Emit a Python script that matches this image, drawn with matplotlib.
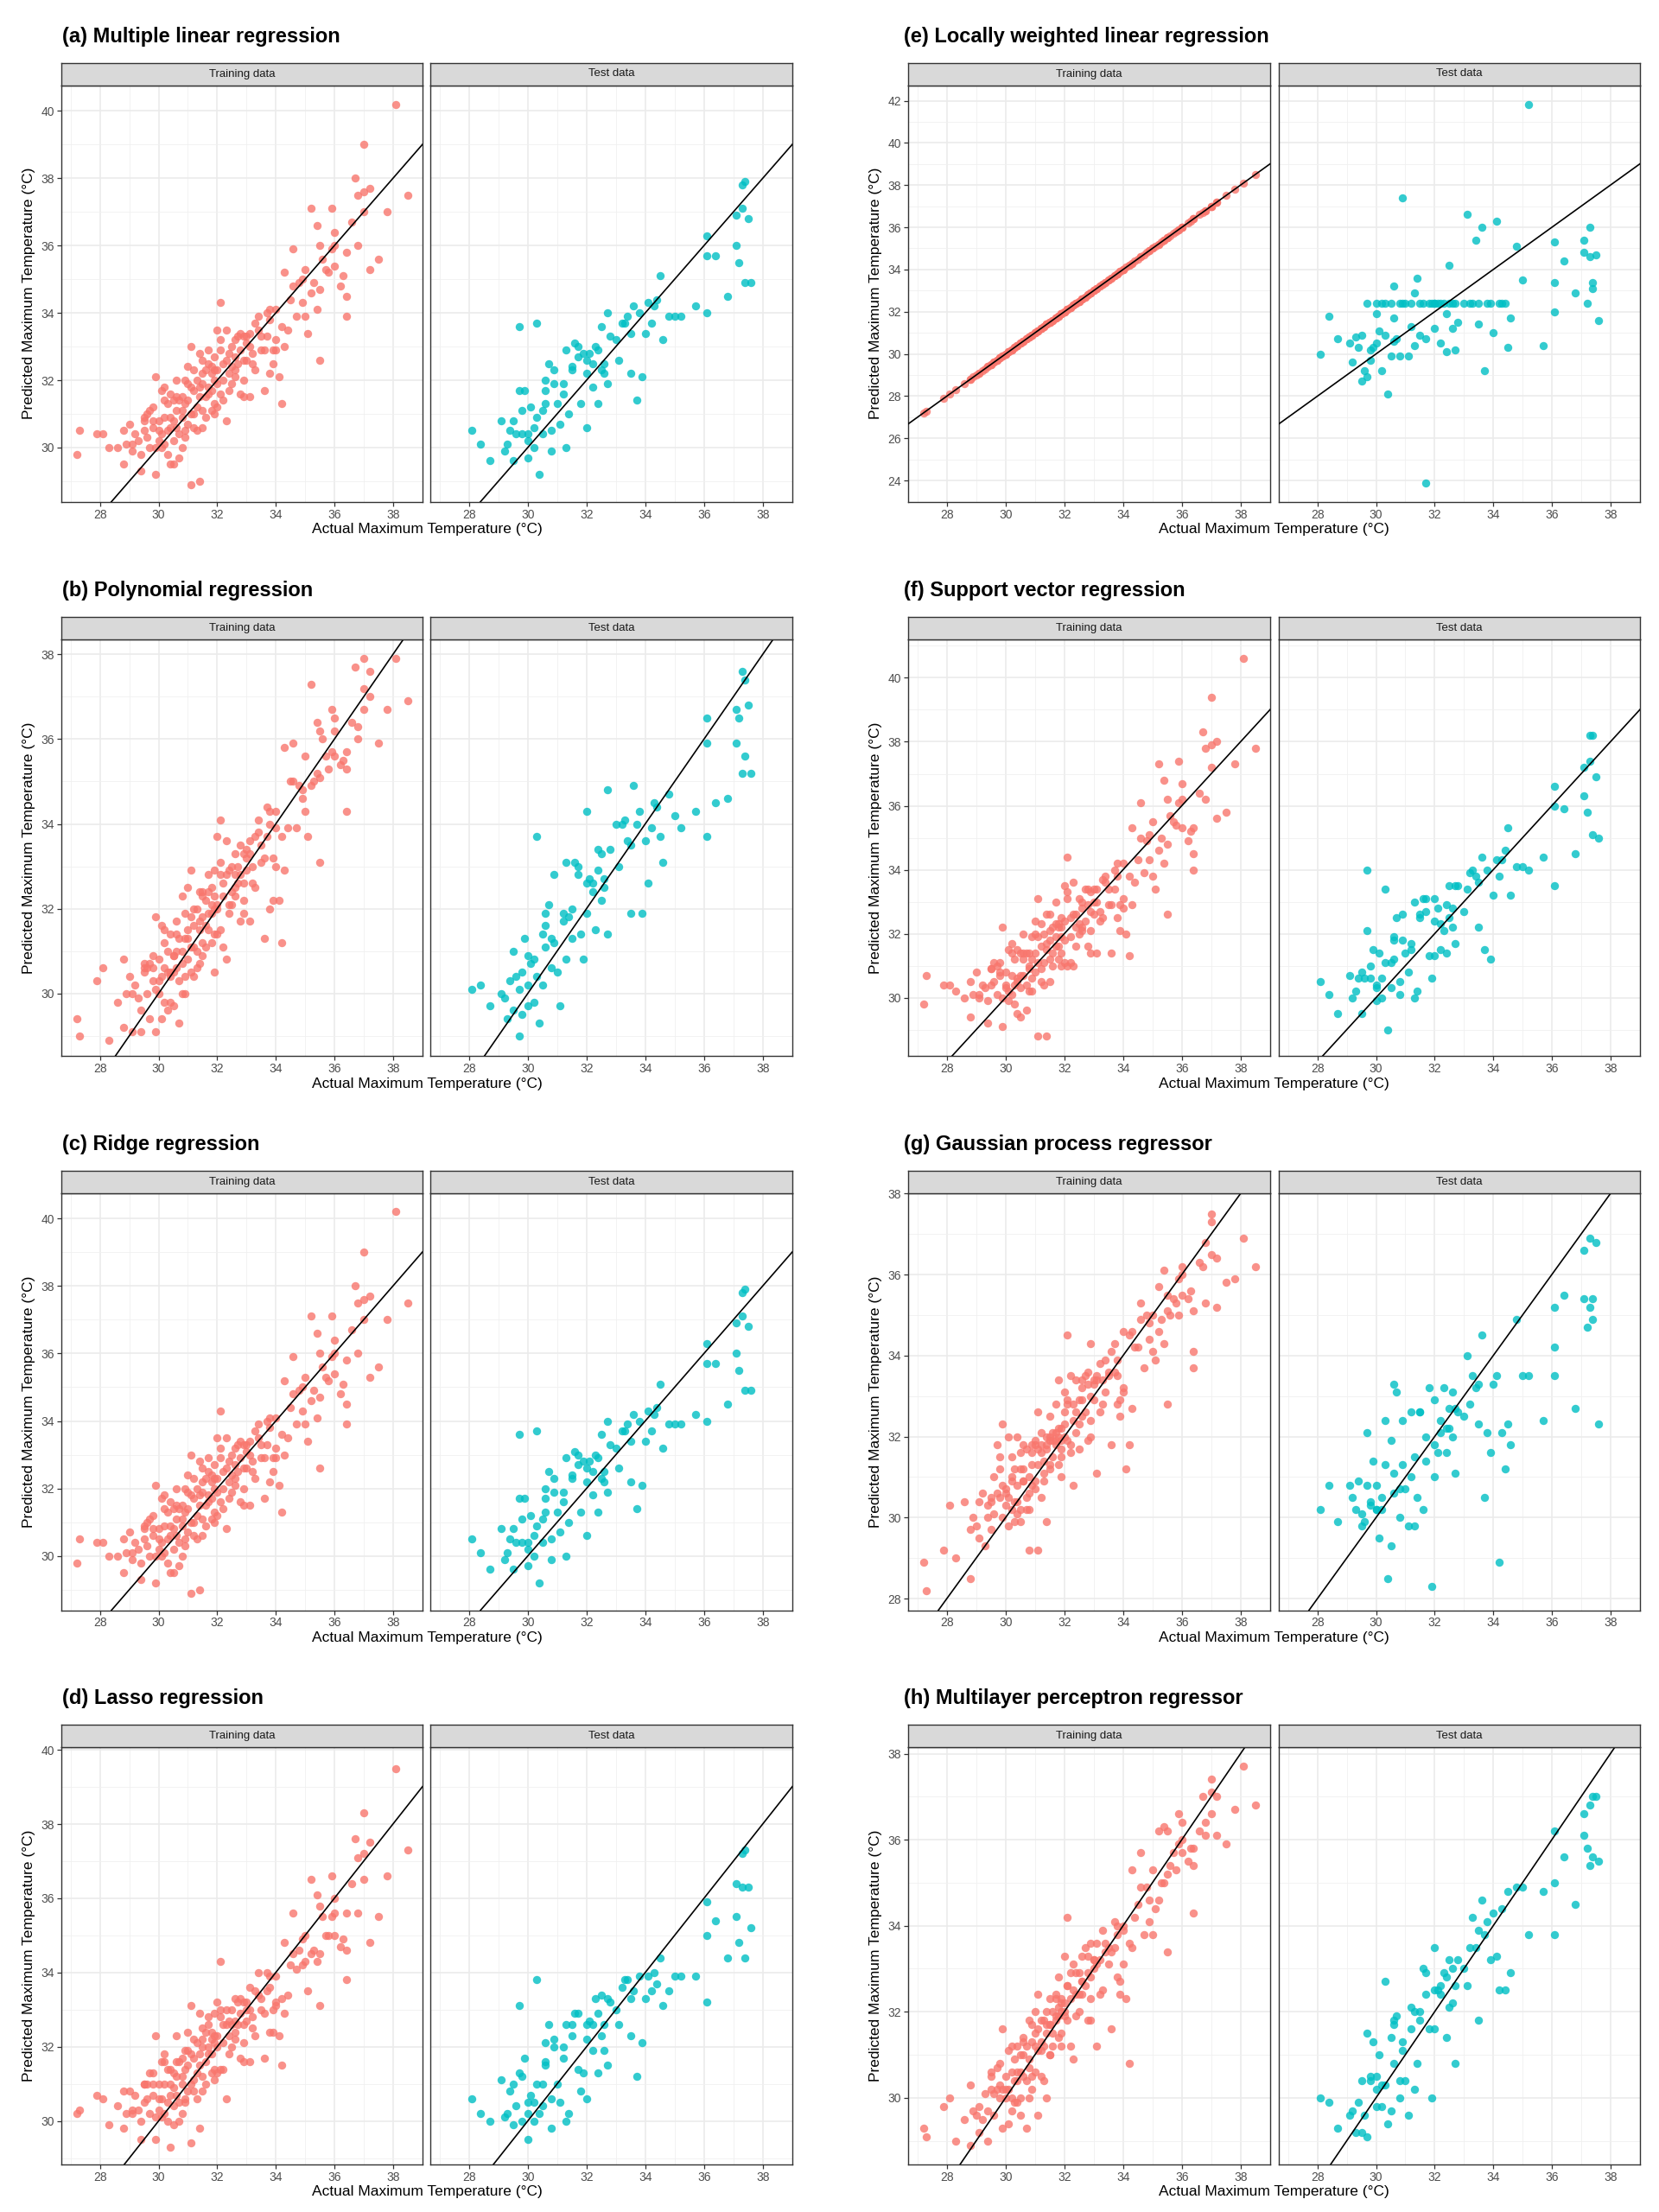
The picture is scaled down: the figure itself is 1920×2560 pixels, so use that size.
import matplotlib
matplotlib.use("Agg")
import matplotlib.pyplot as plt
from matplotlib.ticker import MultipleLocator

plt.rcParams["font.family"] = ["Liberation Sans", "DejaVu Sans"]

W, H = 1920, 2560

# actual maximum temperature of the training days (shared by all models)
TRAIN_ACTUAL = [
    27.2, 27.3, 27.9, 28.1, 28.3, 28.6, 28.8, 28.8, 28.9,
    29.0, 29.1, 29.1, 29.2, 29.3, 29.4, 29.4, 29.5, 29.5,
    29.6, 29.6, 29.7, 29.7, 29.8, 29.8, 29.9, 29.9, 29.9,
    30.0, 30.0, 30.1, 30.1, 30.1, 30.2, 30.2, 30.2, 30.3, 30.3, 30.4, 30.4, 30.4, 30.5,
    30.5, 30.5, 30.6, 30.6, 30.6, 30.7, 30.7, 30.7, 30.8, 30.8, 30.8, 30.9, 30.9, 30.9,
    31.0, 31.0, 31.1, 31.1, 31.1, 31.2, 31.2, 31.2, 31.3, 31.3, 31.4, 31.4, 31.4, 31.5,
    31.5, 31.5, 31.6, 31.6, 31.7, 31.7, 31.7, 31.8, 31.8, 31.8, 31.9, 31.9, 31.9, 31.9,
    32.0, 32.0, 32.1, 32.1, 32.1, 32.2, 32.2, 32.3, 32.3, 32.4, 32.4,
    32.5, 32.5, 32.6, 32.6, 32.7, 32.8, 32.8, 32.9, 32.9, 32.9, 32.9,
    33.0, 33.0, 33.1, 33.1, 33.2, 33.3, 33.3, 33.4, 33.5,
    33.5, 33.6, 33.7, 33.7, 33.8, 33.8, 33.9, 33.9, 34.0,
    34.0, 34.1, 34.2, 34.2, 34.3, 34.3, 34.5, 34.6, 34.7, 34.8, 34.9, 34.9,
    35.0, 35.1, 35.2, 35.2, 35.4, 35.4, 35.5, 35.5, 35.6, 35.8, 35.9, 35.9,
    36.0, 36.0, 36.2, 36.4, 36.4, 36.4, 36.6, 36.7, 36.8, 36.8,
    37.0, 37.0, 37.0, 37.2, 37.2, 37.5, 37.8, 38.1, 38.5,
    29.5, 29.8, 30.0, 30.2, 30.3, 30.5, 30.6, 30.8, 30.9, 31.0, 31.1, 31.2,
    31.3, 31.4, 31.5, 31.6, 31.7, 31.8, 31.9, 32.0, 32.1, 32.2, 32.3, 32.4,
    32.5, 32.6, 32.7, 32.8, 33.0, 33.2, 33.4, 33.6, 33.8, 34.0, 34.4, 34.6,
    35.0, 35.3, 35.5, 35.7, 36.0, 36.3, 30.4, 31.0, 31.5, 32.0, 32.6, 33.1,
]

# actual maximum temperature of the test days
TEST_ACTUAL = [
    28.1, 28.4, 28.7, 29.1, 29.2, 29.3, 29.5, 29.5, 29.6, 29.7,
    29.7, 29.8, 29.9, 30.0, 30.0, 30.1, 30.2, 30.2, 30.3, 30.4,
    30.5, 30.5, 30.6, 30.6, 30.7, 30.8, 30.8, 30.9, 31.0, 31.1,
    31.2, 31.3, 31.3, 31.4, 31.5, 31.6, 31.7, 31.8, 31.9, 32.0,
    32.0, 32.1, 32.2, 32.3, 32.4, 32.5, 32.5, 32.6, 32.7, 32.7,
    33.0, 33.1, 33.3, 33.4, 33.5, 33.6, 33.7, 33.9, 34.1, 34.2,
    34.4, 34.5, 34.6, 34.8, 35.2, 35.7, 36.1, 36.1, 36.4, 36.8,
    37.1, 37.1, 37.2, 37.3, 37.3, 37.4, 37.4, 37.5, 37.6, 36.1,
    29.4, 29.8, 30.0, 30.3, 30.6, 30.9, 31.2, 31.5, 31.7, 32.0,
    32.2, 32.4, 32.6, 32.8, 33.2, 33.5, 33.8, 34.0, 34.3, 35.0,
]

MLR_TRAIN = [
    29.8, 30.5, 30.4, 30.4, 30.0, 30.0, 30.5, 29.5, 30.1,
    30.7, 29.9, 30.1, 30.4, 30.2, 29.3, 29.8, 30.5, 30.8,
    31.0, 30.3, 31.1, 30.0, 30.8, 30.6, 29.2, 32.1, 30.0,
    30.2, 30.8, 31.7, 30.4, 30.0, 31.4, 30.9, 30.1, 31.3, 30.5, 31.6, 29.5, 30.9, 31.4,
    30.2, 29.5, 31.1, 30.6, 32.0, 31.4, 30.4, 29.7, 31.5, 30.9, 30.0, 31.3, 30.5, 32.0,
    31.9, 30.7, 28.9, 31.0, 33.0, 30.6, 32.3, 31.7, 31.2, 30.5, 31.5, 29.0, 32.8, 31.1,
    31.9, 32.6, 30.9, 32.3, 31.6, 32.5, 31.8, 32.2, 31.1, 32.4, 32.0, 31.3, 32.7, 31.0,
    33.5, 32.3, 34.3, 31.6, 32.9, 32.5, 31.4, 30.8, 33.5, 32.2, 32.8,
    32.4, 31.9, 33.2, 32.7, 33.3, 31.6, 32.9, 33.3, 32.0, 32.6, 31.5,
    33.1, 32.6, 31.5, 33.4, 32.5, 33.7, 32.3, 33.9, 32.9,
    33.3, 31.7, 34.0, 33.3, 32.2, 33.8, 32.9, 32.5, 32.9,
    33.2, 32.1, 31.3, 33.6, 33.0, 35.2, 34.4, 35.9, 33.9, 34.9, 34.3, 35.0,
    33.9, 33.4, 37.1, 34.6, 36.6, 34.1, 32.6, 36.0, 35.6, 35.2, 35.9, 37.1,
    35.4, 36.4, 34.8, 34.5, 35.8, 33.9, 36.7, 38.0, 36.0, 37.5,
    39.0, 37.0, 37.6, 37.7, 35.3, 35.6, 37.0, 40.2, 37.5,
    30.9, 31.2, 30.5, 31.8, 29.8, 30.8, 31.5, 31.1, 30.3, 31.4, 31.8, 31.0,
    32.0, 31.8, 30.6, 31.5, 32.9, 31.7, 32.3, 31.9, 33.2, 32.0, 32.6, 31.7,
    33.0, 32.3, 32.5, 33.4, 33.3, 32.8, 33.5, 32.9, 34.1, 34.1, 33.5, 34.8,
    35.3, 34.9, 34.7, 35.3, 36.0, 35.1, 30.6, 32.4, 32.2, 31.2, 32.1, 33.0,
]
MLR_TEST = [
    30.5, 30.1, 29.6, 30.8, 29.9, 30.1, 30.8, 29.6, 30.4, 33.6,
    31.7, 30.4, 31.7, 30.2, 29.7, 31.2, 30.6, 30.0, 33.7, 29.2,
    30.4, 31.1, 32.0, 31.7, 32.5, 30.5, 29.9, 32.3, 31.3, 30.7,
    31.9, 32.9, 30.0, 31.0, 32.4, 33.1, 32.7, 31.3, 32.8, 30.6,
    32.2, 32.8, 31.8, 33.0, 31.3, 33.6, 32.3, 32.2, 31.9, 34.0,
    33.2, 32.6, 33.7, 33.9, 32.2, 34.2, 31.4, 32.1, 34.3, 33.7,
    34.4, 35.1, 33.2, 33.9, 33.9, 34.2, 36.3, 34.0, 35.7, 34.5,
    36.0, 36.9, 35.5, 37.8, 37.1, 37.9, 34.9, 36.8, 34.9, 35.7,
    30.5, 31.1, 30.4, 30.9, 31.3, 31.9, 31.6, 32.3, 33.0, 32.6,
    32.5, 32.9, 32.5, 33.3, 33.7, 33.4, 34.0, 33.4, 34.2, 33.9,
]

POLY_TRAIN = [
    29.4, 29.0, 30.3, 30.6, 28.9, 29.8, 30.8, 29.2, 30.0,
    30.4, 29.1, 30.0, 30.2, 29.9, 29.1, 29.6, 30.5, 30.7,
    30.6, 30.0, 30.7, 29.4, 30.6, 30.3, 29.1, 31.8, 30.1,
    30.0, 30.8, 31.6, 30.4, 29.4, 31.2, 30.6, 29.8, 31.0, 30.5, 31.4, 29.8, 30.4, 30.9,
    30.5, 29.7, 31.0, 30.6, 31.7, 31.3, 30.3, 29.3, 32.3, 30.7, 30.0, 31.3, 30.4, 31.9,
    31.5, 30.8, 30.5, 31.1, 32.9, 30.4, 32.0, 31.6, 31.0, 30.6, 31.5, 30.7, 32.4, 31.2,
    31.8, 32.4, 31.1, 32.2, 31.5, 32.4, 31.9, 32.1, 31.2, 32.5, 32.0, 31.4, 32.9, 30.5,
    33.7, 32.0, 34.1, 31.5, 32.8, 32.6, 31.1, 30.8, 33.6, 32.1, 32.9,
    32.4, 32.1, 33.3, 32.8, 33.0, 31.7, 32.8, 33.3, 32.2, 32.6, 31.9,
    33.2, 32.9, 31.7, 33.6, 32.6, 33.7, 32.5, 34.1, 33.1,
    33.5, 31.3, 34.4, 33.7, 32.0, 34.0, 33.2, 32.2, 33.0,
    33.9, 32.2, 31.2, 33.7, 32.9, 35.8, 35.0, 35.9, 33.9, 34.9, 34.6, 34.8,
    34.3, 33.7, 37.3, 34.9, 36.4, 35.2, 33.1, 36.2, 36.0, 35.3, 35.7, 36.7,
    35.6, 36.5, 35.4, 34.3, 35.3, 35.7, 36.4, 37.7, 36.0, 36.3,
    37.9, 36.7, 37.2, 37.6, 37.0, 35.9, 36.7, 37.9, 36.9,
    30.6, 30.9, 30.3, 31.5, 29.6, 30.9, 31.4, 31.0, 30.0, 31.3, 31.8, 31.1,
    32.0, 31.7, 30.9, 31.6, 32.8, 31.9, 32.3, 32.1, 33.1, 32.3, 32.8, 31.9,
    33.0, 32.5, 32.6, 33.5, 33.4, 33.0, 33.8, 33.2, 34.3, 34.3, 33.9, 35.0,
    35.6, 35.0, 35.1, 35.6, 36.2, 35.5, 30.5, 32.5, 32.3, 31.4, 32.3, 33.3,
]
POLY_TEST = [
    30.1, 30.2, 29.7, 30.0, 29.9, 29.4, 31.0, 29.6, 30.4, 29.0,
    30.1, 29.5, 31.3, 30.2, 29.7, 30.7, 30.8, 29.8, 33.7, 29.3,
    31.4, 30.2, 31.9, 31.1, 32.1, 30.6, 31.3, 32.8, 30.5, 29.7,
    31.7, 33.1, 30.8, 31.8, 31.3, 33.1, 32.8, 31.4, 30.8, 34.3,
    31.9, 32.7, 32.4, 31.5, 33.4, 32.2, 33.3, 32.5, 34.8, 31.4,
    34.0, 33.0, 34.1, 33.6, 31.9, 34.9, 34.0, 31.9, 32.6, 33.9,
    34.4, 33.7, 33.1, 34.7, 33.9, 34.3, 36.5, 33.7, 34.5, 34.6,
    35.9, 36.7, 36.5, 37.6, 35.2, 37.4, 35.6, 36.8, 35.2, 35.9,
    30.3, 30.5, 30.9, 30.4, 31.6, 31.2, 31.9, 32.0, 33.0, 32.6,
    32.6, 32.9, 32.7, 33.4, 34.0, 33.5, 34.3, 33.6, 34.5, 34.2,
]

# ridge predictions are indistinguishable from the linear model in the figure
RIDGE_TRAIN = list(MLR_TRAIN)
RIDGE_TEST = list(MLR_TEST)

LASSO_TRAIN = [
    30.2, 30.3, 30.7, 30.6, 29.9, 30.4, 30.8, 29.8, 30.2,
    30.8, 30.2, 30.3, 30.7, 30.3, 29.5, 30.0, 30.5, 31.0,
    31.0, 30.6, 31.3, 30.2, 31.0, 30.7, 29.5, 32.3, 30.1,
    30.3, 31.0, 31.6, 30.6, 30.1, 31.6, 31.0, 30.2, 31.4, 30.5, 31.4, 29.3, 31.0, 31.3,
    30.4, 29.9, 31.2, 30.7, 32.3, 31.6, 30.5, 30.0, 31.7, 31.0, 30.2, 31.4, 30.6, 31.9,
    31.9, 30.8, 29.4, 31.0, 33.1, 30.8, 32.2, 31.7, 31.3, 30.6, 31.5, 29.8, 32.9, 31.2,
    32.0, 32.5, 31.0, 32.4, 31.8, 32.6, 32.0, 32.2, 31.3, 32.4, 32.1, 31.4, 32.9, 31.1,
    33.2, 32.3, 34.3, 31.4, 32.8, 32.6, 31.4, 30.6, 33.0, 32.3, 32.7,
    32.6, 32.0, 33.3, 32.7, 33.2, 31.7, 32.9, 33.2, 32.1, 32.6, 31.6,
    33.0, 32.7, 31.6, 33.6, 32.5, 33.5, 32.3, 34.0, 33.0,
    33.3, 31.7, 34.0, 33.5, 32.4, 33.6, 33.0, 32.4, 33.2,
    33.1, 32.3, 31.5, 33.3, 32.9, 34.8, 34.2, 35.6, 34.1, 34.6, 34.2, 34.9,
    34.3, 33.5, 36.5, 34.5, 36.1, 34.3, 33.1, 35.8, 35.5, 35.0, 35.5, 36.6,
    35.0, 36.0, 34.7, 34.6, 35.6, 33.8, 36.4, 37.6, 35.6, 37.1,
    38.3, 36.5, 37.2, 37.5, 34.8, 35.5, 36.6, 39.5, 37.3,
    31.0, 31.3, 30.6, 31.8, 30.0, 30.9, 31.6, 31.2, 30.5, 31.5, 31.8, 31.1,
    32.1, 31.8, 30.8, 31.6, 32.8, 31.8, 32.3, 32.0, 33.0, 32.1, 32.6, 31.8,
    33.0, 32.4, 32.6, 33.3, 33.2, 32.8, 33.4, 32.9, 33.9, 33.9, 33.4, 34.5,
    35.0, 34.6, 34.5, 35.0, 35.6, 34.9, 30.7, 32.4, 32.2, 31.3, 32.2, 33.0,
]
LASSO_TEST = [
    30.6, 30.2, 30.0, 31.1, 30.1, 30.2, 31.0, 29.9, 30.4, 33.1,
    31.3, 30.0, 31.7, 30.2, 29.5, 30.7, 30.5, 30.0, 33.8, 30.2,
    30.4, 31.0, 32.1, 31.6, 32.6, 30.6, 29.8, 32.2, 31.0, 30.5,
    32.0, 32.6, 30.0, 30.2, 32.6, 32.9, 31.4, 30.8, 31.3, 30.6,
    32.2, 32.7, 31.9, 33.3, 31.3, 33.4, 32.3, 31.9, 31.5, 33.3,
    33.0, 32.6, 33.8, 33.8, 32.3, 33.5, 31.2, 32.1, 33.9, 33.5,
    33.7, 34.4, 33.1, 33.5, 33.9, 33.9, 35.9, 33.2, 35.4, 34.4,
    35.5, 36.4, 34.8, 37.2, 36.3, 37.3, 34.4, 36.3, 35.2, 35.0,
    30.8, 31.2, 30.5, 31.0, 31.5, 32.0, 31.7, 32.3, 32.9, 32.6,
    32.6, 32.9, 32.6, 33.2, 33.6, 33.3, 33.9, 33.3, 34.0, 33.9,
]

# locally weighted regression reproduces the training targets exactly
LWLR_TRAIN = list(TRAIN_ACTUAL)
LWLR_TEST = [
    30.0, 31.8, 30.7, 30.5, 29.6, 30.8, 28.7, 30.9, 29.2, 32.4,
    28.9, 30.2, 30.3, 31.9, 30.5, 31.1, 29.2, 32.4, 30.9, 28.1,
    29.9, 32.4, 33.2, 31.7, 30.7, 32.4, 29.9, 37.4, 32.4, 29.9,
    32.4, 30.4, 32.9, 33.6, 30.9, 32.4, 23.9, 32.4, 32.4, 31.2,
    32.4, 32.4, 30.5, 32.4, 31.9, 34.2, 32.4, 31.2, 30.2, 32.4,
    32.4, 36.6, 32.4, 35.4, 32.4, 36.0, 29.2, 32.4, 36.3, 32.4,
    32.4, 30.3, 31.7, 35.1, 41.8, 30.4, 33.4, 32.0, 34.4, 32.9,
    35.4, 34.8, 32.4, 34.6, 36.0, 33.4, 33.1, 34.7, 31.6, 35.3,
    30.3, 29.7, 32.4, 32.4, 30.6, 32.4, 31.3, 32.4, 30.7, 32.4,
    32.4, 30.1, 32.4, 31.5, 32.4, 31.4, 32.4, 31.0, 32.4, 33.5,
]

SVR_TRAIN = [
    29.8, 30.7, 30.4, 30.4, 30.2, 30.0, 30.5, 29.4, 30.1,
    30.8, 30.0, 30.1, 30.4, 30.3, 29.2, 29.9, 30.4, 30.9,
    31.1, 30.5, 31.0, 30.1, 30.8, 30.7, 29.1, 32.2, 30.0,
    30.3, 30.8, 31.5, 30.2, 29.9, 31.4, 30.7, 30.1, 31.2, 30.4, 31.5, 29.5, 30.6, 31.4,
    30.3, 29.4, 31.2, 30.7, 32.0, 31.4, 30.4, 29.6, 31.4, 30.9, 30.2, 31.2, 30.6, 31.9,
    32.0, 30.8, 28.8, 31.1, 33.1, 30.5, 32.3, 31.6, 31.1, 30.4, 31.5, 28.8, 32.6, 31.2,
    31.8, 32.6, 31.0, 32.2, 31.6, 32.3, 31.9, 32.2, 31.2, 32.3, 31.9, 31.4, 32.5, 31.0,
    33.5, 32.4, 34.4, 31.0, 33.1, 32.5, 31.1, 31.0, 33.6, 32.2, 32.6,
    32.3, 32.0, 33.0, 32.8, 33.4, 31.6, 32.9, 33.3, 32.1, 32.7, 31.4,
    33.0, 32.6, 31.4, 33.4, 32.4, 33.7, 32.5, 33.8, 32.9,
    33.4, 31.4, 34.0, 33.4, 32.5, 33.8, 32.9, 32.1, 32.8,
    33.1, 32.0, 31.3, 33.8, 32.9, 35.3, 34.3, 36.1, 33.9, 34.9, 34.3, 35.1,
    33.8, 33.4, 37.3, 34.6, 36.8, 34.2, 32.6, 36.2, 35.7, 35.4, 36.1, 37.4,
    35.3, 36.7, 34.9, 34.5, 35.3, 34.0, 36.4, 38.3, 36.2, 37.8,
    39.4, 37.2, 37.9, 38.0, 35.6, 35.8, 37.3, 40.6, 37.8,
    30.9, 31.1, 30.4, 31.7, 29.8, 30.7, 31.4, 31.0, 30.2, 31.4, 31.9, 30.9,
    32.0, 31.7, 30.5, 31.4, 33.0, 31.6, 32.2, 31.8, 33.3, 31.9, 32.6, 31.6,
    33.1, 32.2, 32.4, 33.4, 33.4, 32.7, 33.6, 32.9, 34.2, 34.2, 33.6, 35.0,
    35.5, 35.0, 34.8, 35.5, 36.2, 35.2, 30.5, 32.4, 32.1, 31.1, 32.1, 33.0,
]
SVR_TEST = [
    30.5, 30.1, 29.5, 30.7, 30.0, 30.2, 30.8, 29.5, 30.6, 34.0,
    32.1, 30.6, 31.5, 29.9, 30.4, 31.4, 30.6, 30.0, 33.4, 29.0,
    30.3, 31.1, 31.9, 31.8, 32.5, 30.5, 30.1, 32.6, 31.4, 30.8,
    31.7, 33.0, 30.0, 30.2, 32.5, 33.1, 32.7, 31.3, 30.6, 33.1,
    31.3, 32.8, 31.5, 32.1, 31.4, 33.5, 32.5, 32.2, 31.7, 33.5,
    32.7, 33.4, 34.0, 33.8, 32.2, 34.4, 31.5, 31.2, 34.3, 33.8,
    34.6, 35.3, 33.2, 34.1, 34.0, 34.4, 36.0, 33.5, 35.9, 34.5,
    36.3, 37.2, 35.8, 38.2, 37.4, 38.2, 35.1, 36.9, 35.0, 36.6,
    30.6, 31.0, 30.3, 31.1, 31.2, 31.8, 31.5, 32.6, 33.1, 32.4,
    32.3, 32.9, 32.8, 33.5, 33.9, 33.6, 34.0, 33.2, 34.3, 34.1,
]

GPR_TRAIN = [
    28.9, 28.2, 29.2, 30.3, 29.0, 30.4, 29.7, 28.5, 30.0,
    29.8, 30.4, 29.5, 30.6, 29.3, 30.3, 30.0, 29.7, 30.5,
    31.0, 30.1, 31.8, 30.6, 30.5, 31.5, 30.0, 32.3, 30.8,
    30.6, 30.3, 32.0, 30.5, 29.8, 31.5, 30.9, 30.2, 31.2, 30.4, 32.0, 30.1, 30.8, 31.6,
    30.2, 29.9, 31.2, 30.9, 31.8, 31.7, 30.5, 30.2, 30.2, 31.0, 29.2, 31.6, 30.8, 31.8,
    31.8, 30.7, 29.2, 31.3, 32.6, 30.5, 32.1, 31.6, 31.4, 30.9, 31.7, 29.9, 32.0, 31.2,
    32.0, 32.5, 31.5, 32.1, 31.8, 32.8, 31.9, 32.0, 31.3, 33.4, 31.9, 31.5, 32.2, 31.0,
    33.1, 32.0, 34.5, 31.9, 32.8, 33.5, 31.6, 30.8, 32.8, 32.1, 33.4,
    32.3, 31.7, 33.4, 32.9, 33.5, 31.9, 33.3, 34.3, 32.4, 33.0, 32.0,
    33.3, 32.9, 31.1, 33.5, 32.6, 33.4, 32.8, 33.9, 33.6,
    33.5, 31.8, 34.3, 33.6, 32.8, 33.9, 32.9, 32.5, 33.2,
    33.1, 31.2, 31.8, 34.5, 32.7, 34.6, 34.2, 35.3, 33.7, 35.0, 34.4, 34.8,
    34.1, 33.9, 35.7, 34.6, 36.1, 34.3, 32.8, 35.1, 35.0, 35.3, 35.0, 35.9,
    35.5, 36.0, 35.4, 34.1, 35.1, 33.7, 36.3, 36.2, 35.3, 36.8,
    37.5, 37.3, 36.5, 36.4, 35.2, 35.8, 35.9, 36.9, 36.2,
    30.4, 31.2, 30.7, 31.0, 29.9, 31.2, 30.9, 30.6, 31.3, 30.9, 31.7, 31.8,
    31.1, 31.8, 31.3, 31.9, 32.1, 32.2, 31.7, 32.6, 32.9, 31.8, 32.4, 32.6,
    32.9, 33.2, 32.6, 33.6, 33.4, 33.8, 33.1, 34.1, 33.5, 34.6, 34.2, 34.9,
    35.0, 34.9, 35.5, 35.4, 36.2, 35.6, 30.4, 31.9, 31.9, 32.3, 32.5, 33.4,
]
GPR_TEST = [
    30.2, 30.8, 29.9, 30.8, 30.5, 30.2, 29.8, 30.1, 29.9, 32.1,
    30.8, 30.3, 31.4, 30.2, 30.8, 29.5, 30.5, 30.2, 32.4, 28.5,
    29.3, 31.9, 33.3, 31.1, 33.1, 30.7, 30.0, 32.4, 30.7, 29.8,
    32.6, 31.5, 29.8, 30.5, 32.6, 30.2, 31.4, 33.2, 28.3, 31.0,
    32.9, 31.6, 32.1, 33.2, 31.6, 32.7, 32.2, 32.0, 32.7, 31.1,
    32.5, 34.0, 33.5, 33.2, 32.3, 34.5, 30.5, 31.6, 33.5, 28.9,
    31.2, 32.3, 31.8, 34.9, 33.5, 32.4, 35.2, 33.5, 35.5, 32.7,
    36.6, 35.4, 34.7, 36.9, 35.2, 35.4, 34.9, 36.8, 32.3, 34.2,
    30.9, 30.4, 30.2, 31.3, 30.6, 31.3, 31.0, 32.6, 32.0, 31.8,
    32.4, 32.2, 33.1, 32.6, 32.8, 33.3, 32.1, 33.3, 32.1, 33.5,
]

MLP_TRAIN = [
    29.3, 29.1, 29.8, 30.0, 29.0, 29.5, 30.3, 28.9, 29.7,
    29.6, 29.2, 29.8, 29.5, 30.1, 29.0, 29.7, 30.2, 30.6,
    30.1, 29.6, 30.7, 30.2, 30.3, 30.0, 29.3, 31.6, 30.2,
    30.0, 30.5, 31.1, 30.2, 29.4, 30.6, 30.0, 29.7, 30.9, 30.4, 31.2, 29.9, 30.4, 31.0,
    30.0, 29.6, 31.0, 30.5, 31.4, 31.2, 30.4, 29.3, 31.8, 30.7, 30.0, 31.3, 30.5, 31.7,
    31.5, 30.6, 29.6, 31.1, 32.4, 30.5, 31.8, 31.3, 31.2, 30.4, 31.5, 30.0, 32.0, 31.0,
    31.7, 32.3, 31.2, 32.0, 31.8, 32.4, 31.9, 32.1, 31.4, 32.8, 32.0, 31.5, 32.3, 31.2,
    33.3, 32.2, 34.2, 31.8, 32.6, 32.9, 31.2, 30.9, 33.1, 32.4, 32.9,
    32.4, 32.0, 33.3, 32.7, 33.5, 31.8, 32.9, 33.6, 32.3, 32.8, 31.8,
    33.2, 33.0, 31.2, 33.6, 32.4, 33.9, 32.5, 33.4, 33.1,
    33.5, 31.6, 34.1, 33.5, 32.8, 33.8, 32.7, 32.4, 33.9,
    33.1, 32.3, 30.8, 33.6, 33.5, 35.3, 34.5, 35.7, 33.8, 34.9, 34.1, 34.6,
    33.8, 34.4, 36.2, 34.6, 36.3, 35.0, 33.4, 36.2, 35.4, 35.3, 35.9, 36.6,
    35.7, 36.4, 35.5, 34.3, 35.8, 35.4, 36.2, 37.0, 36.1, 36.4,
    37.4, 36.6, 37.1, 37.0, 36.1, 35.9, 36.7, 37.7, 36.8,
    30.5, 30.8, 30.2, 31.2, 29.9, 30.6, 31.3, 30.9, 30.2, 31.2, 31.6, 31.1,
    31.8, 31.7, 31.0, 31.5, 32.3, 31.9, 32.2, 32.0, 32.6, 32.3, 32.5, 31.9,
    32.9, 32.7, 32.6, 33.3, 33.2, 33.2, 33.6, 33.4, 34.0, 34.0, 34.2, 34.9,
    35.3, 35.0, 35.2, 35.7, 36.0, 35.8, 30.6, 32.0, 31.7, 31.9, 32.4, 33.1,
]
MLP_TEST = [
    30.0, 29.9, 29.3, 29.6, 29.7, 29.2, 30.4, 29.2, 29.6, 31.5,
    29.1, 30.5, 31.3, 30.2, 29.8, 31.0, 30.3, 29.8, 32.7, 29.4,
    31.4, 29.7, 31.8, 31.7, 31.9, 30.4, 30.0, 31.3, 30.4, 29.6,
    32.1, 30.2, 32.0, 30.8, 31.8, 33.0, 32.9, 31.6, 30.0, 33.5,
    31.6, 32.5, 32.4, 32.9, 31.4, 33.2, 32.1, 32.2, 32.6, 30.8,
    33.0, 32.6, 34.2, 33.5, 31.8, 34.6, 33.8, 33.2, 33.3, 32.5,
    32.5, 34.8, 32.9, 34.9, 33.8, 34.8, 36.2, 33.8, 35.6, 34.5,
    36.6, 36.1, 35.8, 36.8, 35.4, 37.0, 35.6, 37.0, 35.5, 35.0,
    29.9, 30.4, 30.5, 30.3, 30.8, 31.1, 31.6, 32.0, 32.4, 32.5,
    32.6, 32.8, 33.0, 33.2, 33.5, 33.9, 34.1, 34.3, 34.4, 34.9,
]

TITLES = [
    "(a) Multiple linear regression",
    "(b) Polynomial regression",
    "(c) Ridge regression",
    "(d) Lasso regression",
    "(e) Locally weighted linear regression",
    "(f) Support vector regression",
    "(g) Gaussian process regressor",
    "(h) Multilayer perceptron regressor",
]
TRAIN_PREDS = [MLR_TRAIN, POLY_TRAIN, RIDGE_TRAIN, LASSO_TRAIN,
               LWLR_TRAIN, SVR_TRAIN, GPR_TRAIN, MLP_TRAIN]
TEST_PREDS = [MLR_TEST, POLY_TEST, RIDGE_TEST, LASSO_TEST,
              LWLR_TEST, SVR_TEST, GPR_TEST, MLP_TEST]
Y_LIMITS = [(28.38, 40.77), (28.52, 38.36), (28.39, 40.75), (28.83, 40.07),
            (22.98, 42.74), (28.17, 41.21), (27.71, 38.01), (28.45, 38.15)]
X_LIMITS = (26.68, 39.01)

TRAIN_COLOR = "#F8766D"
TEST_COLOR = "#00BFC4"

# pixel layout of the two columns: train facet, test facet, title x
COLUMNS = [((71, 489), (498, 917), 72), ((1051, 1470), (1480, 1898), 1046)]


def px_axes(fig, x0, y0, x1, y1):
    return fig.add_axes([x0 / W, 1 - y1 / H, (x1 - x0) / W, (y1 - y0) / H])


def style_axes(ax, ylim, show_y):
    ax.set_xlim(*X_LIMITS)
    ax.set_ylim(*ylim)
    ax.xaxis.set_major_locator(MultipleLocator(2))
    ax.yaxis.set_major_locator(MultipleLocator(2))
    ax.xaxis.set_minor_locator(MultipleLocator(1))
    ax.yaxis.set_minor_locator(MultipleLocator(1))
    ax.grid(which="major", color="#EBEBEB", linewidth=1.2)
    ax.grid(which="minor", color="#F0F0F0", linewidth=0.6)
    ax.set_axisbelow(True)
    for spine in ax.spines.values():
        spine.set_color("#333333")
        spine.set_linewidth(1.0)
    ax.tick_params(which="major", length=3.5, width=0.9, color="#333333",
                   labelsize=10, labelcolor="#4D4D4D", pad=2)
    ax.tick_params(which="minor", length=0)
    if not show_y:
        ax.tick_params(axis="y", left=False, labelleft=False)


def draw_strip(fig, x0, x1, y0, y1, label):
    sax = px_axes(fig, x0, y0, x1, y1)
    sax.set_facecolor("#D9D9D9")
    sax.set_xticks([])
    sax.set_yticks([])
    for spine in sax.spines.values():
        spine.set_color("#333333")
        spine.set_linewidth(1.0)
    sax.text(0.5, 0.5, label, transform=sax.transAxes, ha="center",
             va="center", fontsize=9.5, color="#1A1A1A")


def main():
    for preds in TRAIN_PREDS:
        assert len(preds) == len(TRAIN_ACTUAL), len(preds)
    for preds in TEST_PREDS:
        assert len(preds) == len(TEST_ACTUAL), len(preds)

    fig = plt.figure(figsize=(W / 100, H / 100), dpi=100)

    for i, title in enumerate(TITLES):
        col, row = divmod(i, 4)
        train_x, test_x, title_x = COLUMNS[col]
        strip_top = 72.5 + 641.2 * row
        strip_bot = strip_top + 26
        ax_bot = 581 + 641.3 * row

        fig.text(title_x / W, 1 - (42 + 641.3 * row) / H, title,
                 fontsize=17, fontweight="bold", ha="left", va="center")

        facets = [
            (train_x, "Training data", TRAIN_ACTUAL, TRAIN_PREDS[i], TRAIN_COLOR, True),
            (test_x, "Test data", TEST_ACTUAL, TEST_PREDS[i], TEST_COLOR, False),
        ]
        for (x0, x1), label, xs, ys, color, show_y in facets:
            ax = px_axes(fig, x0, strip_bot, x1, ax_bot)
            style_axes(ax, Y_LIMITS[i], show_y)
            ax.scatter(xs, ys, s=46, color=color, alpha=0.8, linewidths=0, zorder=2)
            ax.axline((30, 30), slope=1, color="black", linewidth=1.2, zorder=3)
            draw_strip(fig, x0, x1, strip_top, strip_bot, label)

        left = train_x[0]
        right = test_x[1]
        fig.text((left + right) / 2 / W, 1 - (ax_bot + 32) / H,
                 "Actual Maximum Temperature (°C)", fontsize=12.5,
                 ha="center", va="center")
        fig.text((left - 37) / W, 1 - (strip_bot + ax_bot) / 2 / H,
                 "Predicted Maximum Temperature (°C)", fontsize=12.5,
                 rotation=90, ha="center", va="center")

    fig.savefig("out.png", dpi=100)
    plt.close(fig)


if __name__ == "__main__":
    main()
